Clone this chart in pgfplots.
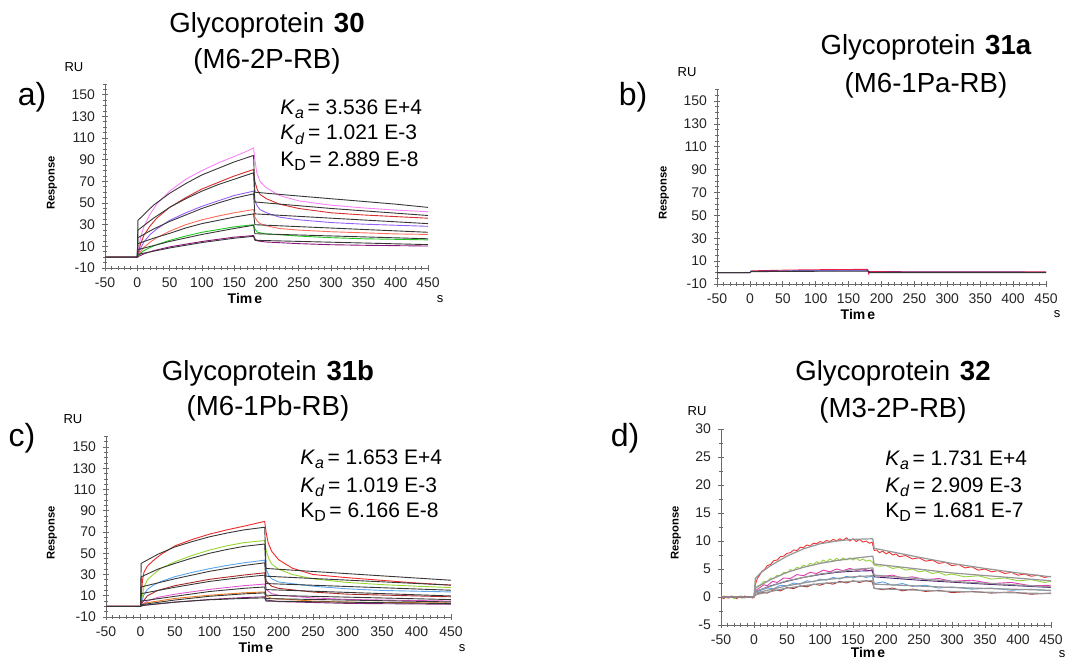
\documentclass[border=0pt]{standalone}
\usepackage{fontspec}
\setmainfont{Liberation Sans}
\usepackage{pgfplots}
\pgfplotsset{compat=1.18}

\definecolor{axgray}{RGB}{105,105,105}
\definecolor{fitblack}{RGB}{55,55,55}
\definecolor{fitgray}{RGB}{150,150,150}
% panel a
\definecolor{pinkA}{RGB}{250,130,250}
\definecolor{redA}{RGB}{215,45,45}
\definecolor{purpA}{RGB}{150,95,250}
\definecolor{salmA}{RGB}{250,110,90}
\definecolor{greenA}{RGB}{30,200,30}
\definecolor{plumA}{RGB}{140,20,120}
% panel b
\definecolor{redB}{RGB}{235,30,70}
\definecolor{blueB}{RGB}{40,40,190}
% panel c
\definecolor{redC}{RGB}{240,40,40}
\definecolor{limeC}{RGB}{150,215,50}
\definecolor{skyC}{RGB}{90,165,235}
\definecolor{dredC}{RGB}{170,40,40}
\definecolor{pinkC}{RGB}{225,90,210}
\definecolor{orangeC}{RGB}{235,125,35}
\definecolor{plumC}{RGB}{130,40,120}
% panel d
\definecolor{redD}{RGB}{240,50,50}
\definecolor{limeD}{RGB}{150,210,60}
\definecolor{magD}{RGB}{225,60,175}
\definecolor{navyD}{RGB}{70,30,110}
\definecolor{skyD}{RGB}{90,160,230}
\definecolor{dredD}{RGB}{165,40,40}

\newcommand\tickfont{\fontsize{7}{8}\selectfont}
\newcommand\sub[1]{\raisebox{-0.45ex}{\fontsize{8}{8}\selectfont #1}}

\pgfplotsset{
  sgram/.style={
    scale only axis, clip=false,
    axis x line*=bottom, axis y line*=left,
    axis line style={axgray, line width=0.5pt, -},
    xmin=-50, xmax=450, xtick distance=50, minor xtick={-50,-40,...,450},
    tick align=center,
    major tick length=3pt, minor tick length=1.6pt,
    every tick/.style={axgray, line width=0.4pt},
    tick label style={font=\tickfont, text=black!85},
    /pgf/number format/assume math mode=true,
    every axis plot/.append style={line width=0.45pt, line join=round},
  },
  sgram big/.style={ymin=-10, ymax=160, ytick={-10,10,...,150},
    minor ytick={-10,-5,...,160}},
}

\begin{document}
\begin{tikzpicture}
\path[use as bounding box] (0,0) rectangle (532.5pt,-329pt);

% ---------- a) glycoprotein 30
\begin{axis}[sgram, sgram big, at={(52.5pt,-134pt)}, anchor=south west,
  width=161.5pt, height=92pt]
\addplot[pinkA] coordinates {(-50,0)(-2,0)(0,1)(2,8)(5,18)(10,28)(20,40)(30,49)(50,61)(75,72)(100,80)(125,87)(150,93)(170,98)(180,101)(182,90)(185,78)(190,70)(200,64)(220,57)(250,52)(300,48)(350,45.5)(400,43.5)(450,42)};
\addplot[redA] coordinates {(-50,0)(0,0)(2,5)(5,12)(10,20)(20,29)(30,36)(50,46)(75,55)(100,63)(125,69)(150,75)(170,79)(180,81)(182,70)(186,62)(190,58)(200,54)(220,49)(250,45)(300,41)(350,39)(400,37.5)(450,36)};
\addplot[purpA] coordinates {(-50,0)(0,0)(2,3)(5,8)(10,14)(20,21)(30,26)(50,34)(75,41)(100,47)(125,52)(150,57)(180,61)(182,52)(186,47)(190,44)(200,41)(220,37)(250,34.5)(300,32)(350,30.5)(400,29.5)(450,28.5)};
\addplot[salmA] coordinates {(-50,0)(0,0)(2,2)(5,5)(10,9)(20,14)(30,18)(50,24)(75,30)(100,34.5)(125,38)(150,41)(180,44)(182,37)(186,33)(190,31)(200,29)(220,26.5)(250,25)(300,23.5)(350,22.5)(400,21.5)(450,21)};
\addplot[greenA] coordinates {(-50,0)(0,0)(3,2)(6,4)(10,6)(20,9)(30,11.5)(50,15.5)(75,19.5)(100,23)(125,25.5)(150,28)(180,30)(182,26)(186,23)(200,21.5)(250,19.5)(300,18)(350,17)(450,16)};
\addplot[plumA] coordinates {(-50,0)(0,0)(3,1)(10,3)(25,6)(50,9.5)(100,14.5)(150,18.5)(180,20)(182,17)(186,15)(200,14)(250,12.5)(300,11.5)(350,11)(450,10.3)};
\addplot[fitblack] coordinates {(-50,0)(0,0)(1,34)(25,48)(50,59)(75,68)(100,76)(125,82)(150,88)(180,94)(182,60)(250,56.5)(300,54)(350,51.5)(400,49)(450,46)};
\addplot[fitblack] coordinates {(0,0)(1,25)(25,36)(50,46)(75,54)(100,61)(125,67)(150,72)(180,78)(182,51)(300,45)(450,38.5)};
\addplot[fitblack] coordinates {(0,0)(1,18)(25,26)(50,33)(75,39)(100,45)(125,50)(150,54.5)(180,58.5)(182,40)(450,31)};
\addplot[fitblack] coordinates {(0,0)(1,12.5)(25,17.5)(50,22)(75,27)(100,31)(125,34)(150,37)(180,40)(182,30)(450,23)};
\addplot[fitblack] coordinates {(0,0)(1,7)(50,14.5)(100,21)(150,26.5)(180,29.5)(182,21.7)(450,17)};
\addplot[fitblack] coordinates {(0,0)(1,2.6)(50,8.5)(100,13.5)(150,17.5)(180,19.3)(182,15.6)(450,11.6)};
\end{axis}

% ---------- b) glycoprotein 31a
\begin{axis}[sgram, sgram big, at={(358.5pt,-142pt)}, anchor=south west,
  width=164.5pt, height=97.2pt]
\addplot[redB] coordinates {(-50,0)(0,0)(2,1.5)(60,2.2)(120,2.6)(179,2.8)(180.5,-1.5)(182,0.8)(300,0.7)(450,0.6)};
\addplot[blueB] coordinates {(-50,0)(0,0)(2,1.1)(60,1.4)(120,1.6)(179,1.6)(182,0.3)(300,0.4)(450,0.3)};
\addplot[fitblack] coordinates {(-50,0)(0,0)(2,0.8)(90,1.1)(180,1.2)(182,0)(450,0)};
\end{axis}

% ---------- c) glycoprotein 31b
\begin{axis}[sgram, sgram big, at={(53pt,-308.5pt)}, anchor=south west,
  width=172.5pt, height=90.3pt]
\addplot[redC] coordinates {(-50,0)(0,0)(1,10)(3,25)(5,32)(10,38)(20,44)(30,49)(50,57)(75,63)(100,68)(125,72)(150,75.5)(170,78.5)(180,80)(182,70)(185,60)(190,52)(200,44)(220,36)(250,30)(300,27)(350,24.5)(400,22)(450,20)};
\addplot[limeC] coordinates {(-50,0)(0,0)(2,8)(5,18)(10,25)(20,31)(30,36)(50,42)(75,48)(100,53)(125,57)(150,60)(180,62)(182,53)(186,45)(190,40)(200,35)(220,30)(250,26)(300,22.5)(350,20.5)(400,19)(450,17.7)};
\addplot[skyC] coordinates {(-50,0)(0,0)(2,5)(5,11)(10,16)(20,20.5)(30,23.5)(50,28)(75,32)(100,35.5)(125,38.5)(150,41)(180,43.5)(182,35)(186,29)(190,26)(200,23)(250,19)(300,16.5)(350,15)(450,13.6)};
\addplot[dredC] coordinates {(-50,0)(0,0)(3,4)(10,10)(25,15)(50,19.5)(100,25.5)(150,29.5)(180,31.6)(182,24)(190,19)(200,17)(250,13.5)(300,11.5)(450,9)};
\addplot[pinkC] coordinates {(-50,0)(0,0)(3,2)(10,5)(25,8.5)(50,11.5)(100,16)(150,19.5)(180,21)(182,16)(190,12)(200,10.5)(250,8)(300,6.5)(450,5)};
\addplot[orangeC] coordinates {(-50,0)(0,0)(3,1.5)(10,3.5)(50,7.5)(100,10.5)(150,12.8)(180,13.6)(182,10)(190,7.5)(250,5)(300,4)(450,3.2)};
\addplot[plumC] coordinates {(-50,0)(0,0)(5,1)(50,4)(100,6.5)(150,8.3)(180,9)(182,6)(200,4.5)(300,2.8)(450,2)};
\addplot[fitblack] coordinates {(-50,0)(0,0)(1,40.5)(25,49)(50,56)(75,61)(100,65.5)(125,69)(150,72)(180,74.5)(182,35.7)(450,24.6)};
\addplot[fitblack] coordinates {(0,0)(1,27.8)(25,35)(50,40.5)(75,45.5)(100,50)(125,53.5)(150,56.5)(180,58.7)(182,28.4)(450,20)};
\addplot[fitblack] coordinates {(0,0)(1,18.3)(50,26)(100,33)(150,38.5)(180,41)(182,21.5)(450,15.2)};
\addplot[fitblack] coordinates {(0,0)(1,12)(50,18)(100,23.5)(150,27.5)(180,29.4)(182,15.8)(450,9.8)};
\addplot[fitblack] coordinates {(0,0)(1,5)(50,9.5)(100,14)(150,17)(180,18.3)(182,10.5)(450,6.4)};
\addplot[fitblack] coordinates {(0,0)(1,1.6)(50,6)(100,9.5)(150,11.8)(180,12.7)(182,7.3)(450,4.2)};
\addplot[fitblack] coordinates {(0,0)(1,0.8)(50,4)(100,6.2)(150,7.5)(180,8)(182,5)(450,2.6)};
\end{axis}

% ---------- d) glycoprotein 32
\begin{axis}[sgram, at={(360.5pt,-312.5pt)}, anchor=south west,
  width=165pt, height=98pt, ymin=-5, ymax=30, ytick={-5,0,...,30},
  minor ytick={-5,-2.5,...,30}]
\addplot[redD] coordinates {(-50,0)(-46,-0.3)(-42,0.1)(-38,-0.2)(-34,0.2)(-30,-0.1)(-26,-0.3)(-22,0.1)(-18,-0.2)(-14,0.2)(-10,-0.1)(-6,0.1)(-2,-0.2)(0,0)(2,2.2)(5,3.3)(8,3.8)(12,4.6)(16,4.9)(20,5.6)(25,5.8)(30,6.5)(35,6.6)(40,7.2)(45,7.3)(50,7.8)(55,7.9)(60,8.4)(65,8.3)(70,8.9)(75,8.8)(80,9.3)(85,9.1)(90,9.6)(95,9.5)(100,9.9)(105,9.7)(110,10.1)(115,9.9)(120,10.3)(125,10.0)(130,10.4)(135,10.1)(140,10.6)(145,10.0)(150,10.4)(155,9.9)(160,10.3)(165,9.8)(170,10.0)(175,9.6)(179,9.8)(182,8.3)(186,8.4)(190,7.9)(195,8.2)(200,7.7)(205,8.0)(210,7.5)(215,7.7)(220,7.2)(230,7.4)(240,6.8)(250,7.0)(260,6.4)(270,6.6)(280,6.0)(290,6.2)(300,5.6)(310,5.8)(320,5.2)(330,5.4)(340,4.8)(350,5.0)(360,4.5)(370,4.7)(380,4.2)(390,4.4)(400,3.9)(410,4.1)(420,3.7)(430,3.9)(440,3.5)(450,3.7)};
\addplot[limeD] coordinates {(-50,0)(-45,0.2)(-40,-0.2)(-35,0.1)(-30,-0.3)(-25,0)(-20,0.2)(-15,-0.2)(-10,0.1)(-5,-0.1)(0,0)(2,1.4)(6,2.0)(10,2.2)(15,2.8)(20,2.7)(25,3.4)(30,3.3)(35,3.9)(40,3.8)(45,4.4)(50,4.3)(55,4.9)(60,4.7)(65,5.3)(70,5.1)(75,5.7)(80,5.4)(85,6.0)(90,5.8)(95,6.3)(100,6.0)(105,6.6)(110,6.2)(115,6.8)(120,6.4)(125,6.9)(130,6.5)(135,7.0)(140,6.6)(145,7.0)(150,6.6)(155,6.9)(160,6.5)(165,6.8)(170,6.4)(175,6.6)(179,6.3)(182,5.7)(190,5.5)(200,5.6)(210,5.1)(220,5.3)(230,4.8)(240,5.0)(250,4.5)(260,4.7)(270,4.2)(280,4.4)(290,3.9)(300,4.1)(320,3.6)(340,3.8)(360,3.2)(380,3.4)(400,2.9)(420,3.1)(440,2.6)(450,2.8)};
\addplot[magD] coordinates {(-50,0)(0,0)(2,1.1)(8,1.6)(15,2.2)(20,2.0)(28,2.8)(35,2.6)(45,3.4)(55,3.3)(65,4.0)(75,3.8)(85,4.4)(95,4.2)(105,4.8)(115,4.5)(125,5.0)(135,4.7)(145,5.1)(155,4.8)(165,5.0)(175,4.7)(179,4.9)(182,3.9)(195,3.7)(210,3.9)(225,3.4)(240,3.6)(260,3.1)(280,3.3)(300,2.8)(330,3.0)(360,2.4)(390,2.6)(420,2.0)(450,2.1)};
\addplot[navyD] coordinates {(-50,0)(0,0)(2,0.9)(25,2.0)(50,2.8)(75,3.5)(100,4.0)(125,4.4)(150,4.6)(179,4.7)(182,3.6)(250,3.0)(350,2.3)(450,1.7)};
\addplot[skyD] coordinates {(-50,0)(0,0)(2,0.8)(10,1.2)(20,1.6)(30,1.5)(40,2.1)(50,2.0)(60,2.5)(70,2.3)(80,2.9)(90,2.7)(100,3.2)(110,3.0)(120,3.5)(130,3.2)(140,3.7)(150,3.4)(160,3.8)(170,3.5)(179,3.7)(182,2.4)(195,2.7)(210,2.1)(225,2.4)(240,1.9)(260,2.1)(280,1.6)(300,1.8)(330,1.4)(360,1.6)(390,1.2)(420,1.4)(450,1.1)};
\addplot[dredD] coordinates {(-50,0)(0,0)(2,0.3)(10,0.9)(20,0.7)(30,1.3)(40,1.1)(50,1.7)(60,1.5)(70,2.0)(80,1.8)(90,2.3)(100,2.1)(110,2.5)(120,2.3)(130,2.8)(140,2.5)(150,2.9)(160,2.6)(170,2.9)(179,2.7)(182,1.6)(195,1.3)(210,1.6)(225,1.1)(240,1.4)(260,1.0)(280,1.2)(300,0.8)(330,1.0)(360,0.7)(390,0.9)(420,0.5)(450,0.7)};
\addplot[fitgray, line width=0.6pt] coordinates {(-50,0)(0,0)(2,3.3)(10,4.3)(25,5.6)(50,7.3)(75,8.6)(100,9.5)(125,10.0)(150,10.3)(180,10.4)(182,8.7)(250,7.1)(300,6.0)(350,5.1)(400,4.3)(450,3.6)};
\addplot[fitgray, line width=0.6pt] coordinates {(0,0)(2,1.6)(25,3.1)(50,4.4)(75,5.3)(100,6.0)(125,6.5)(150,6.9)(180,7.3)(182,5.9)(300,4.3)(450,2.9)};
\addplot[fitgray, line width=0.6pt] coordinates {(0,0)(2,1.0)(50,2.9)(100,4.1)(150,4.9)(180,5.2)(182,3.9)(300,2.8)(450,1.8)};
\addplot[fitgray, line width=0.6pt] coordinates {(0,0)(2,0.7)(50,2.0)(100,3.0)(150,3.6)(180,3.8)(182,2.3)(300,1.7)(450,1.2)};
\addplot[fitgray, line width=0.6pt] coordinates {(0,0)(2,0.4)(50,1.6)(100,2.4)(150,2.8)(180,2.9)(182,1.5)(300,1.0)(450,0.6)};
\end{axis}

% ---------- texts, positioned in pixels of the reference
\begin{scope}[x=0.5pt, y=-0.5pt,
  ttl/.style={font=\fontsize{13.8}{15}\selectfont, inner sep=0pt},
  kin/.style={font=\fontsize{10.5}{12}\selectfont, anchor=base west, inner sep=0pt},
  lett/.style={font=\fontsize{16}{18}\selectfont, inner sep=0pt},
  ru/.style={font=\fontsize{6.5}{7}\selectfont, inner sep=0pt},
  resp/.style={font=\fontsize{5.6}{6}\selectfont\bfseries, rotate=90, inner sep=0pt},
  tim/.style={font=\fontsize{7}{8}\selectfont\bfseries, inner sep=0pt}]
% a
\node[ttl] at (267,25) {Glycoprotein\hspace{0.35em}\textbf{30}};
\node[ttl] at (267,61) {(M6-2P-RB)};
\node[ru] at (74,67) {RU};
\node[lett] at (32,97) {a)};
\node[kin] at (280,114) {\textit{K}\sub{\textit{a}}\,= 3.536 E+4};
\node[kin] at (280,140) {\textit{K}\sub{\textit{d}}\,= 1.021 E-3};
\node[kin] at (280,166) {K\sub{D}\,= 2.889 E-8};
\node[resp] at (52,183) {Response};
\node[tim] at (245,298) {Tim\hspace{0.15em}e};
\node[ru] at (440,299) {s};
% b
\node[ttl] at (926,47) {Glycoprotein\hspace{0.35em}\textbf{31a}};
\node[ttl] at (926,85) {(M6-1Pa-RB)};
\node[ru] at (687,72) {RU};
\node[lett] at (633,97) {b)};
\node[resp] at (664,193) {Response};
\node[tim] at (858,314) {Tim\hspace{0.15em}e};
\node[ru] at (1057,314) {s};
% c
\node[ttl] at (268,373) {Glycoprotein\hspace{0.35em}\textbf{31b}};
\node[ttl] at (268,408) {(M6-1Pb-RB)};
\node[ru] at (73,419) {RU};
\node[lett] at (22,438) {c)};
\node[kin] at (300,464) {\textit{K}\sub{\textit{a}}\,= 1.653 E+4};
\node[kin] at (300,492) {\textit{K}\sub{\textit{d}}\,= 1.019 E-3};
\node[kin] at (300,517) {K\sub{D}\,= 6.166 E-8};
\node[resp] at (52,533) {Response};
\node[tim] at (256,647) {Tim\hspace{0.15em}e};
\node[ru] at (462,648) {s};
% d
\node[ttl] at (893,373) {Glycoprotein\hspace{0.35em}\textbf{32}};
\node[ttl] at (893,410) {(M3-2P-RB)};
\node[ru] at (697,411) {RU};
\node[lett] at (625,438) {d)};
\node[kin] at (885,465) {\textit{K}\sub{\textit{a}}\,= 1.731 E+4};
\node[kin] at (885,492) {\textit{K}\sub{\textit{d}}\,= 2.909 E-3};
\node[kin] at (885,517) {K\sub{D}\,= 1.681 E-7};
\node[resp] at (676,533) {Response};
\node[tim] at (868,652) {Tim\hspace{0.15em}e};
\node[ru] at (1062,654) {s};
\end{scope}
\end{tikzpicture}
\end{document}
